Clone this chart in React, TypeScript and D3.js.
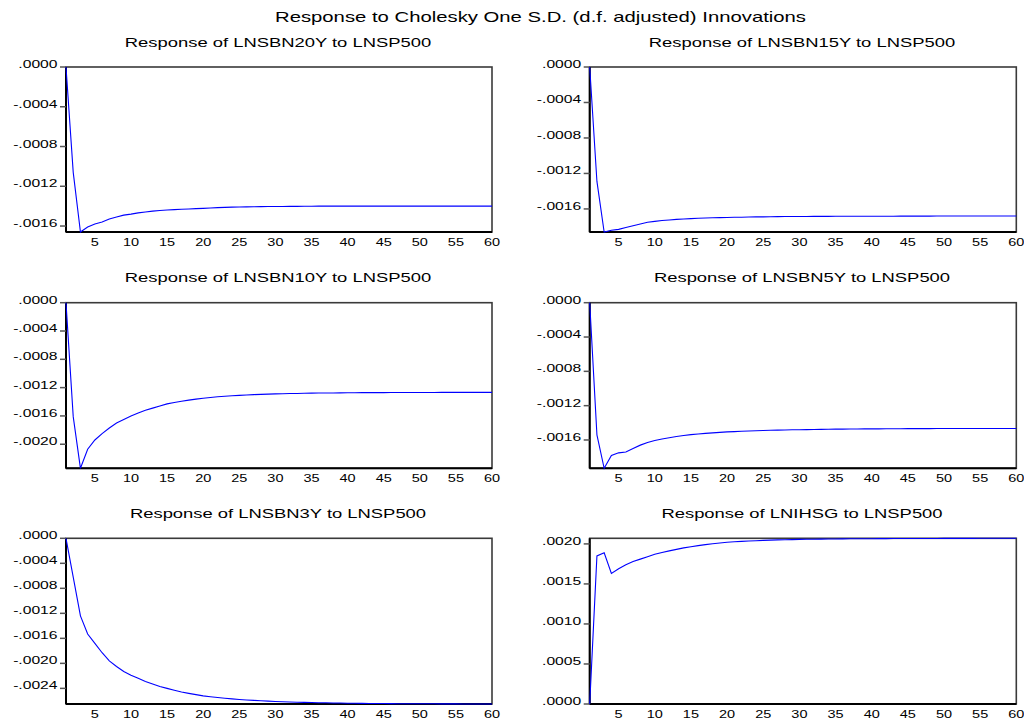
import React from "react";
import * as d3 from "d3";

const mainTitle = "Response to Cholesky One S.D. (d.f. adjusted) Innovations";
const panelTitles = [
  "Response of LNSBN20Y to LNSP500",
  "Response of LNSBN15Y to LNSP500",
  "Response of LNSBN10Y to LNSP500",
  "Response of LNSBN5Y to LNSP500",
  "Response of LNSBN3Y to LNSP500",
  "Response of LNIHSG to LNSP500",
];

const lnsbn20y = [
  0, -0.00106, -0.00166, -0.00161, -0.00158, -0.00156, -0.00153, -0.00151, -0.00149, -0.00148,
  -0.001468, -0.001458, -0.00145, -0.001444, -0.001439, -0.001435, -0.001431, -0.001428, -0.001425, -0.001422,
  -0.001418, -0.001415, -0.001412, -0.00141, -0.001408, -0.001407, -0.001406, -0.001405, -0.001404, -0.001403,
  -0.001403, -0.001402, -0.001402, -0.001401, -0.001401, -0.0014, -0.0014, -0.0014, -0.0014, -0.0014,
  -0.0014, -0.0014, -0.0014, -0.0014, -0.0014, -0.0014, -0.0014, -0.0014, -0.0014, -0.0014,
  -0.0014, -0.0014, -0.0014, -0.0014, -0.0014, -0.0014, -0.0014, -0.0014, -0.0014, -0.0014,
];
const lnsbn15y = [
  0, -0.00129, -0.00186, -0.00184, -0.00183, -0.00181, -0.00179, -0.00177, -0.00175, -0.00174,
  -0.001731, -0.001724, -0.001718, -0.001713, -0.001709, -0.001705, -0.001702, -0.0017, -0.001698, -0.001696,
  -0.001694, -0.001693, -0.001691, -0.00169, -0.001689, -0.001688, -0.001687, -0.001686, -0.001686, -0.001685,
  -0.001685, -0.001684, -0.001684, -0.001684, -0.001683, -0.001683, -0.001683, -0.001683, -0.001682, -0.001682,
  -0.001682, -0.001682, -0.001682, -0.001681, -0.001681, -0.001681, -0.001681, -0.001681, -0.00168, -0.00168,
  -0.00168, -0.00168, -0.00168, -0.00168, -0.00168, -0.00168, -0.00168, -0.00168, -0.00168, -0.00168,
];
const lnsbn10y = [
  0, -0.00161, -0.00234, -0.00207, -0.00194, -0.00185, -0.00177, -0.0017, -0.00165, -0.0016,
  -0.00156, -0.00152, -0.00149, -0.00146, -0.00143, -0.00141, -0.001393, -0.001377, -0.001363, -0.00135,
  -0.00134, -0.00133, -0.001322, -0.001315, -0.001309, -0.001304, -0.001299, -0.001295, -0.001292, -0.001289,
  -0.001286, -0.001284, -0.001282, -0.00128, -0.001278, -0.001277, -0.001276, -0.001275, -0.001274, -0.001273,
  -0.001272, -0.001271, -0.001271, -0.00127, -0.00127, -0.001269, -0.001269, -0.001269, -0.001268, -0.001268,
  -0.001268, -0.001268, -0.001267, -0.001267, -0.001267, -0.001267, -0.001267, -0.001267, -0.001267, -0.001267,
];
const lnsbn5y = [
  0, -0.00154, -0.00193, -0.00178, -0.00175, -0.00174, -0.0017, -0.00166, -0.00163, -0.001605,
  -0.001588, -0.001573, -0.00156, -0.001548, -0.001538, -0.00153, -0.001523, -0.001517, -0.001511, -0.001506,
  -0.001502, -0.001498, -0.001495, -0.001492, -0.001489, -0.001487, -0.001485, -0.001483, -0.001481, -0.00148,
  -0.001479, -0.001477, -0.001476, -0.001475, -0.001474, -0.001473, -0.001472, -0.001472, -0.001471, -0.00147,
  -0.00147, -0.001469, -0.001469, -0.001469, -0.001468, -0.001468, -0.001468, -0.001468, -0.001467, -0.001467,
  -0.001467, -0.001467, -0.001467, -0.001466, -0.001466, -0.001466, -0.001466, -0.001466, -0.001466, -0.001466,
];
const lnsbn3y = [
  0, -0.00062, -0.00124, -0.00153, -0.00168, -0.00183, -0.00196, -0.00205, -0.00213, -0.00219,
  -0.00224, -0.00229, -0.00233, -0.00237, -0.0024, -0.00243, -0.002458, -0.00248, -0.0025, -0.00252,
  -0.002534, -0.002547, -0.002558, -0.002568, -0.002577, -0.002585, -0.002592, -0.002598, -0.002604, -0.002609,
  -0.002613, -0.002617, -0.002621, -0.002624, -0.002627, -0.002629, -0.002631, -0.002633, -0.002635, -0.002637,
  -0.002638, -0.00264, -0.002641, -0.002642, -0.002643, -0.002644, -0.002645, -0.002645, -0.002646, -0.002646,
  -0.002647, -0.002647, -0.002648, -0.002648, -0.002648, -0.002649, -0.002649, -0.002649, -0.00265, -0.00265,
];
const lnihsg = [
  0, 0.00185, 0.00189, 0.00163, 0.00169, 0.00174, 0.00178, 0.00181, 0.00184, 0.00187,
  0.001893, 0.001913, 0.001932, 0.00195, 0.001965, 0.001978, 0.001991, 0.002002, 0.002011, 0.00202,
  0.002026, 0.002031, 0.002036, 0.00204, 0.002044, 0.002047, 0.00205, 0.002052, 0.002054, 0.002056,
  0.002058, 0.002059, 0.00206, 0.002061, 0.002062, 0.002063, 0.002064, 0.002064, 0.002065, 0.002065,
  0.002066, 0.002066, 0.002067, 0.002067, 0.002067, 0.002068, 0.002068, 0.002068, 0.002068, 0.002069,
  0.002069, 0.002069, 0.002069, 0.002069, 0.00207, 0.00207, 0.00207, 0.00207, 0.00207, 0.00207,
];

const ticks16 = [0, -0.0004, -0.0008, -0.0012, -0.0016];
const ticks20 = [0, -0.0004, -0.0008, -0.0012, -0.0016, -0.002];
const ticks24 = [0, -0.0004, -0.0008, -0.0012, -0.0016, -0.002, -0.0024];
const ticksPos = [0, 0.0005, 0.001, 0.0015, 0.002];
const xTicks = [5, 10, 15, 20, 25, 30, 35, 40, 45, 50, 55, 60];

const seriesList = [lnsbn20y, lnsbn15y, lnsbn10y, lnsbn5y, lnsbn3y, lnihsg];
const tickList = [ticks16, ticks16, ticks20, ticks16, ticks24, ticksPos];

const COLS = [
  [66, 492],
  [589.7, 1016.3],
];
const ROWS = [
  [67, 232],
  [302.7, 468.3],
  [538.3, 704],
];
const FONT = "'Liberation Sans', Arial, sans-serif";
const SX = 1.45;

const fmt = (v: number) => {
  const s = Math.abs(v).toFixed(4).replace(/^0/, "");
  return (v < -1e-12 ? "-" : "") + s;
};

function Panel({ idx }: { idx: number }) {
  const col = COLS[idx % 2];
  const row = ROWS[Math.floor(idx / 2)];
  const values = seriesList[idx];
  const ext = d3.extent(values) as [number, number];
  const x = d3.scaleLinear().domain([1, 60]).range([col[0], col[1]]);
  const y = d3.scaleLinear().domain(ext).range([row[1], row[0]]);
  const line = d3
    .line<number>()
    .x((_, i) => x(i + 1))
    .y((d) => y(d));
  const cx = (col[0] + col[1]) / 2;
  return (
    <g>
      <text
        transform={`translate(${cx - 1},${row[0] - 20.5}) scale(${SX},1)`}
        textAnchor="middle"
        fontFamily={FONT}
        fontSize={12.7}
        fill="#000"
      >
        {panelTitles[idx]}
      </text>
      <rect
        x={col[0]}
        y={row[0]}
        width={col[1] - col[0]}
        height={row[1] - row[0]}
        fill="#fff"
        stroke="#3a3a3a"
        strokeWidth={1.6}
      />
      <line x1={col[0]} x2={col[0]} y1={row[0]} y2={row[1]} stroke="#000" strokeWidth={2} />
      <line x1={col[0]} x2={col[1]} y1={row[1]} y2={row[1]} stroke="#000" strokeWidth={2} />
      {tickList[idx].map((t) => (
        <g key={t}>
          <line x1={col[0] - 6} x2={col[0]} y1={y(t)} y2={y(t)} stroke="#555" strokeWidth={1.5} />
          <text
            transform={`translate(${col[0] - 8.5},${y(t) + 1}) scale(${SX},1)`}
            textAnchor="end"
            fontFamily={FONT}
            fontSize={10.8}
            fill="#000"
          >
            {fmt(t)}
          </text>
        </g>
      ))}
      {xTicks.map((t) => (
        <text
          key={t}
          transform={`translate(${x(t)},${row[1] + 14}) scale(${SX},1)`}
          textAnchor="middle"
          fontFamily={FONT}
          fontSize={10}
          fill="#000"
        >
          {t}
        </text>
      ))}
      <path d={line(values) || ""} fill="none" stroke="#0000ff" strokeWidth={1.1} />
    </g>
  );
}

export default function App() {
  return (
    <svg
      width={1024}
      height={722}
      style={{ position: "absolute", left: 0, top: 0, background: "#fff" }}
    >
      <rect x={0} y={0} width={1024} height={722} fill="#fff" />
      <text
        transform={`translate(540.5,21.5) scale(${SX},1)`}
        textAnchor="middle"
        fontFamily={FONT}
        fontSize={14}
        fill="#000"
      >
        {mainTitle}
      </text>
      {[0, 1, 2, 3, 4, 5].map((i) => (
        <Panel key={i} idx={i} />
      ))}
    </svg>
  );
}
